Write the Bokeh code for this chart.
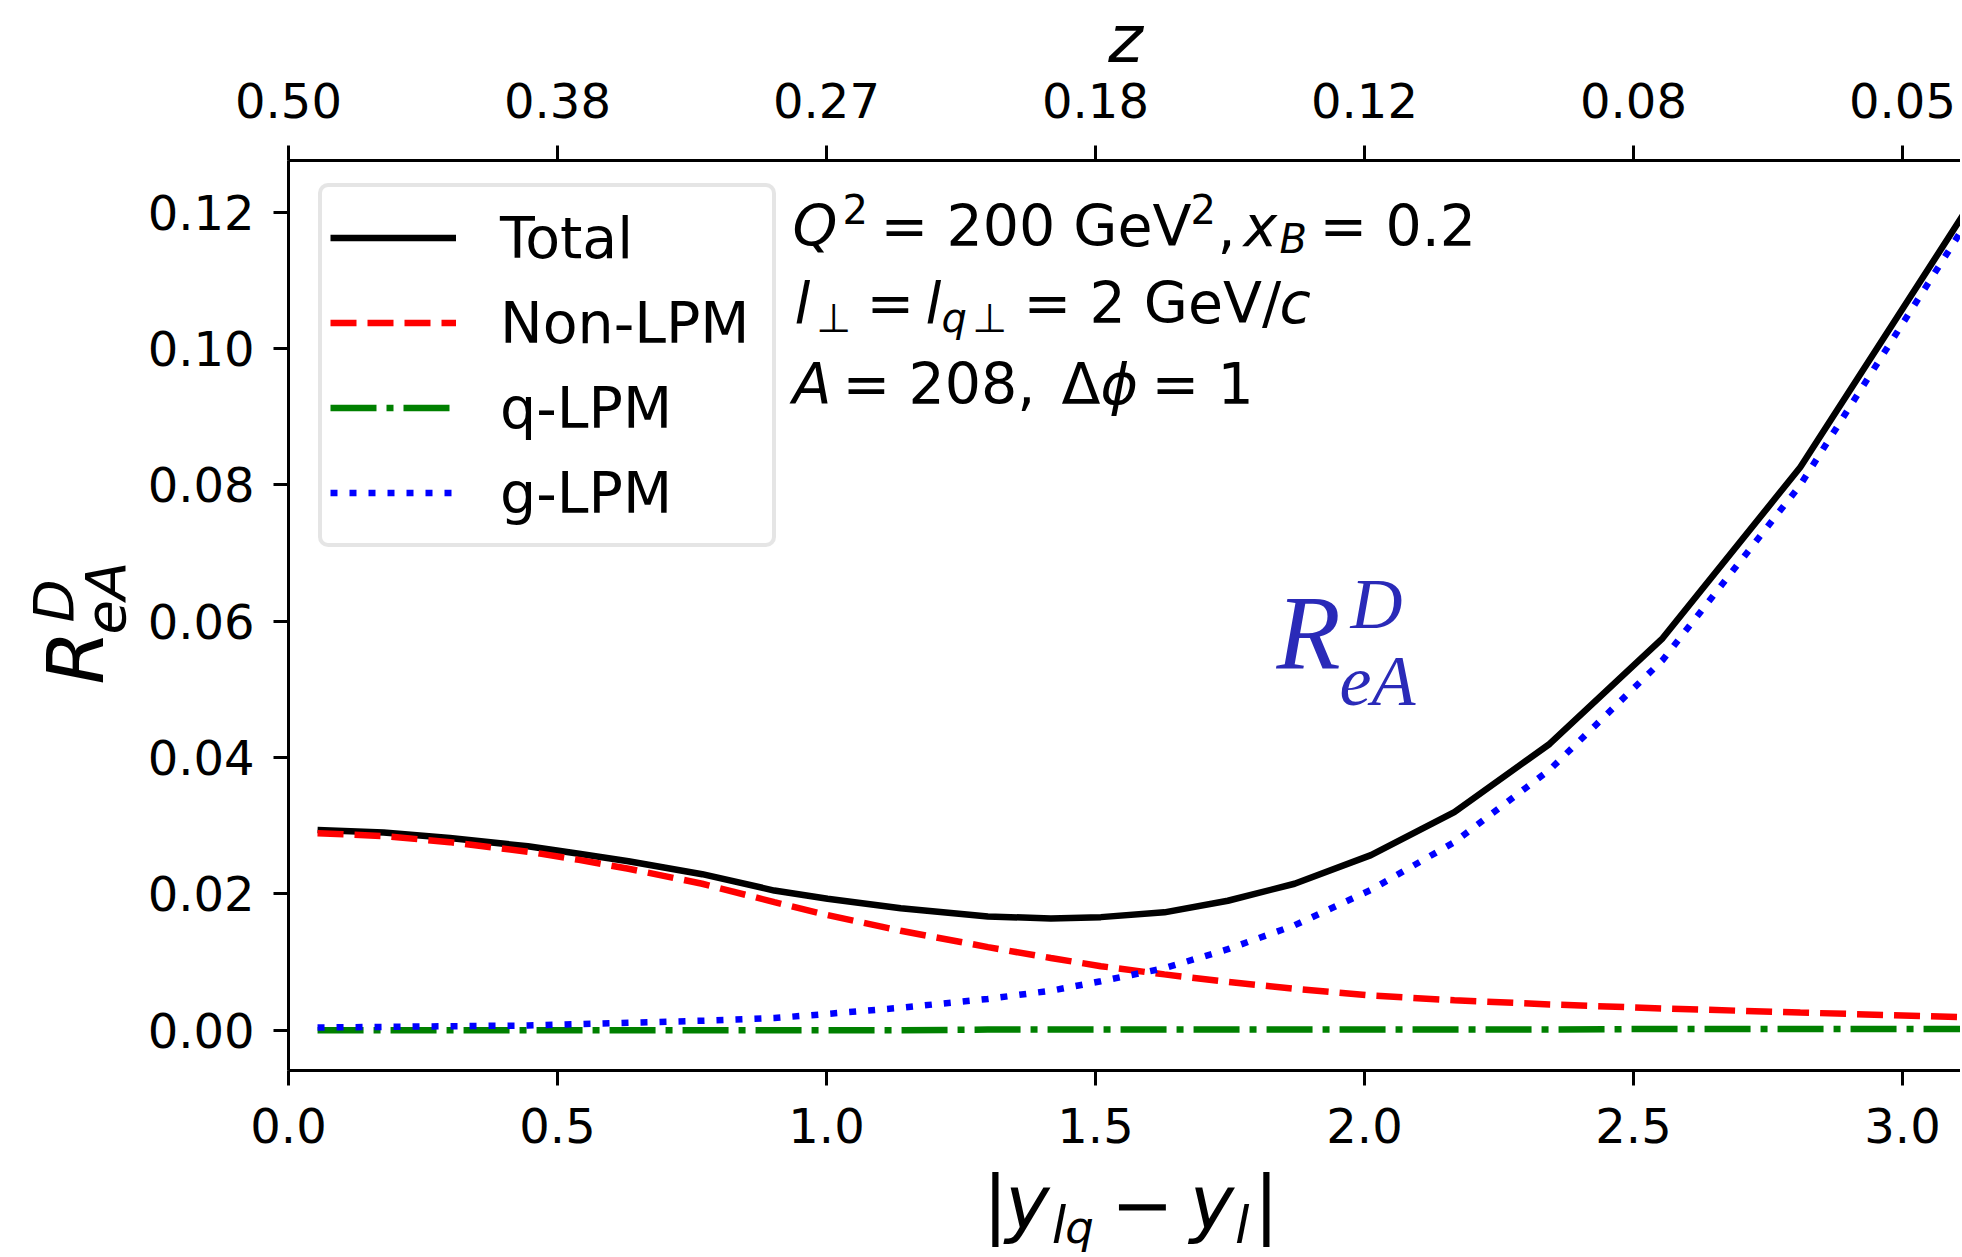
import numpy as np
from bokeh.plotting import figure
from bokeh.models import (Range1d, LinearAxis, FixedTicker, NumeralTickFormatter,
                          Legend, LegendItem, Label, ColumnDataSource)
from bokeh.embed import file_html
from bokeh.resources import INLINE

# ---------------- data ----------------
dy_lq_l = [0.054, 0.177, 0.300, 0.445, 0.540, 0.632, 0.769, 0.903, 1.002, 1.138, 1.300,
           1.417, 1.510, 1.628, 1.746, 1.870, 2.012, 2.167, 2.344, 2.554, 2.810, 3.120]
total   = [0.0294, 0.0290, 0.0282, 0.0270, 0.0259, 0.0248, 0.0229, 0.0205, 0.0193, 0.0179, 0.0167,
           0.0164, 0.0166, 0.0173, 0.0190, 0.0215, 0.0257, 0.0320, 0.0420, 0.0575, 0.0826, 0.1205]
non_lpm = [0.0289, 0.0285, 0.0276, 0.0262, 0.0250, 0.0237, 0.0215, 0.0188, 0.0169, 0.0146, 0.0122,
           0.0106, 0.0094, 0.0082, 0.0071, 0.0061, 0.0051, 0.0044, 0.0038, 0.0032, 0.0026, 0.0019]
q_lpm   = [0.0000, 0.0000, 0.0000, 0.0000, 0.0000, 0.0000, 0.0000, 0.0000, 0.0000, 0.0000, 0.0001,
           0.0001, 0.0001, 0.0001, 0.0001, 0.0001, 0.0001, 0.0001, 0.0001, 0.0002, 0.0002, 0.0002]
g_lpm   = [0.0004, 0.0005, 0.0006, 0.0007, 0.0009, 0.0011, 0.0014, 0.0018, 0.0024, 0.0033, 0.0046,
           0.0058, 0.0072, 0.0091, 0.0119, 0.0154, 0.0206, 0.0276, 0.0382, 0.0543, 0.0800, 0.1186]

x_ticks = [0.0, 0.5, 1.0, 1.5, 2.0, 2.5, 3.0]
z_tick_labels = ["0.50", "0.38", "0.27", "0.18", "0.12", "0.08", "0.05"]
y_ticks = [0.00, 0.02, 0.04, 0.06, 0.08, 0.10, 0.12]
series_names = ["Total", "Non-LPM", "q-LPM", "g-LPM"]

# ---------------- geometry ----------------
W, H = 1960, 1254
AX_L, AX_T, AX_B = 288, 160, 1070          # pixel position of the axes box
X0 = 0.0                                    # data x at the left axis
Y0, Y1 = -0.0059, 0.1276                    # data y at bottom / top axis
PX_PER_X = 538.0
PY_PER_Y = (AX_B - AX_T) / (Y1 - Y0)
XR = (X0 - AX_L / PX_PER_X, X0 + (W - AX_L) / PX_PER_X)
YR = (Y1 - (H - AX_T) / PY_PER_Y, Y1 + AX_T / PY_PER_Y)

FONT = "DejaVu Sans"

p = figure(width=W, height=H, output_backend="svg", toolbar_location=None, title=None,
           x_range=Range1d(*XR), y_range=Range1d(*YR),
           x_axis_type=None, y_axis_type=None,
           min_border_left=0, min_border_right=0, min_border_top=0, min_border_bottom=0)
p.outline_line_color = None
p.background_fill_color = "white"
p.border_fill_color = "white"

bottom_axis = LinearAxis(fixed_location=Y0, bounds=(X0, XR[1]),
                         ticker=FixedTicker(ticks=x_ticks),
                         formatter=NumeralTickFormatter(format="0.0"))
top_axis = LinearAxis(fixed_location=Y1, bounds=(X0, XR[1]),
                      ticker=FixedTicker(ticks=x_ticks),
                      major_label_overrides={t: l for t, l in zip(x_ticks, z_tick_labels)})
left_axis = LinearAxis(fixed_location=X0, bounds=(Y0, Y1),
                       ticker=FixedTicker(ticks=y_ticks),
                       formatter=NumeralTickFormatter(format="0.00"))
p.add_layout(bottom_axis, "below")
p.add_layout(top_axis, "above")
p.add_layout(left_axis, "left")

for ax in [bottom_axis, left_axis, top_axis]:
    ax.axis_line_width = 3
    ax.axis_line_color = "black"
    ax.major_tick_line_width = 3
    ax.major_tick_line_color = "black"
    ax.major_tick_out = 15
    ax.major_tick_in = 0
    ax.minor_tick_line_color = None
    ax.major_label_text_font = FONT
    ax.major_label_text_font_size = "48px"
    ax.major_label_text_color = "black"
bottom_axis.major_label_standoff = 22
top_axis.major_label_standoff = 28
left_axis.major_label_standoff = 19

src = ColumnDataSource(dict(x=dy_lq_l, total=total, non=non_lpm, q=q_lpm, g=g_lpm))
LW = 6.5
r_tot = p.line("x", "total", source=src, line_color="black", line_width=LW)
r_non = p.line("x", "non", source=src, line_color="red", line_width=LW, line_dash="26 11")
r_q = p.line("x", "q", source=src, line_color="green", line_width=LW, line_dash="46 10 7 10")
r_g = p.line("x", "g", source=src, line_color="blue", line_width=LW, line_dash="7 12")

legend = Legend(items=[LegendItem(label=n, renderers=[r])
                       for n, r in zip(series_names, [r_tot, r_non, r_q, r_g])],
                location=(318, H - 547), padding=8, spacing=0,
                glyph_width=126, glyph_height=85, label_height=85, label_width=264,
                label_standoff=44,
                label_text_font=FONT, label_text_font_size="57px", label_text_color="black",
                border_line_color="#cccccc", border_line_width=4, border_radius=10,
                background_fill_color="white", background_fill_alpha=0.8)
p.add_layout(legend)

K_SANS, K_SERIF = 0.34, 0.39


def txt(px, py, s, size, italic=False, font=FONT, color="black", angle=0.0, align="left"):
    """px, py: canvas pixel position of the text start (or centre) on its baseline."""
    k = K_SERIF if "Serif" in font else K_SANS
    if angle == 0.0:
        ax_, ay_ = px, py - k * size
    else:
        ax_, ay_ = px - k * size, py
    p.add_layout(Label(x=ax_, y=ay_, x_units="canvas", y_units="canvas", text=s,
                       text_font=font,
                       text_font_style="italic" if italic else "normal",
                       text_font_size=f"{size}px", text_color=color,
                       text_baseline="alphabetic", text_align=align, angle=angle))


# annotation block
S, SS = 57, 40
txt(792, 244.5, "Q", S, True)
txt(842, 222, "2", SS)
txt(880, 244.5, "= 200 GeV", S)
txt(1190, 222, "2", SS)
txt(1217, 244.5, ",", S)
txt(1243, 244.5, "x", S, True)
txt(1279, 251.8, "B", SS, True)
txt(1319, 244.5, "= 0.2", S)

txt(794, 321.5, "l", S, True)
txt(816, 330.7, "\u22a5", SS)
txt(866, 321.5, "=", S)
txt(925, 321.5, "l", S, True)
txt(941, 331.5, "q", SS, True)
txt(972, 331, "\u22a5", SS)
txt(1023, 321.5, "= 2 GeV/", S)
txt(1279, 321.5, "c", S, True)

txt(792, 403, "A", S, True)
txt(842, 403, "= 208,", S)
txt(1061, 403, "\u0394", S)
txt(1100, 403, "\u03d5", S, True)
txt(1151, 403, "= 1", S)

# big blue label inside the plot
BLUE = "#2a2ab8"
txt(1276, 673, "R", 105, True, "Liberation Serif", BLUE)
txt(1350, 632, "D", 72, True, "Liberation Serif", BLUE)
txt(1339, 709, "eA", 72, True, "Liberation Serif", BLUE)

# top axis label z
txt(1125, 61, "z", 66, True, align="center")

# bottom axis label |y_{l_q} - y_l|
BL = 1228
txt(995, BL, "|", 75, align="center")
txt(1027, BL, "y", 75, True, align="center")
txt(1058.5, 1242.5, "l", 52, True, align="center")
txt(1079, 1242, "q", 45, True, align="center")
txt(1142, BL, "\u2212", 75, align="center")
txt(1211.5, BL, "y", 75, True, align="center")
txt(1241.7, 1242.5, "l", 52, True, align="center")
txt(1266, BL, "|", 75, align="center")

# left axis label R^D_eA (rotated)
ang = np.pi / 2
txt(101.7, 684, "R", 78, True, angle=ang)
txt(71.7, 622, "D", 56, True, angle=ang)
txt(124, 634, "eA", 56, True, angle=ang)

open("out.html", "w").write(file_html(p, INLINE))
